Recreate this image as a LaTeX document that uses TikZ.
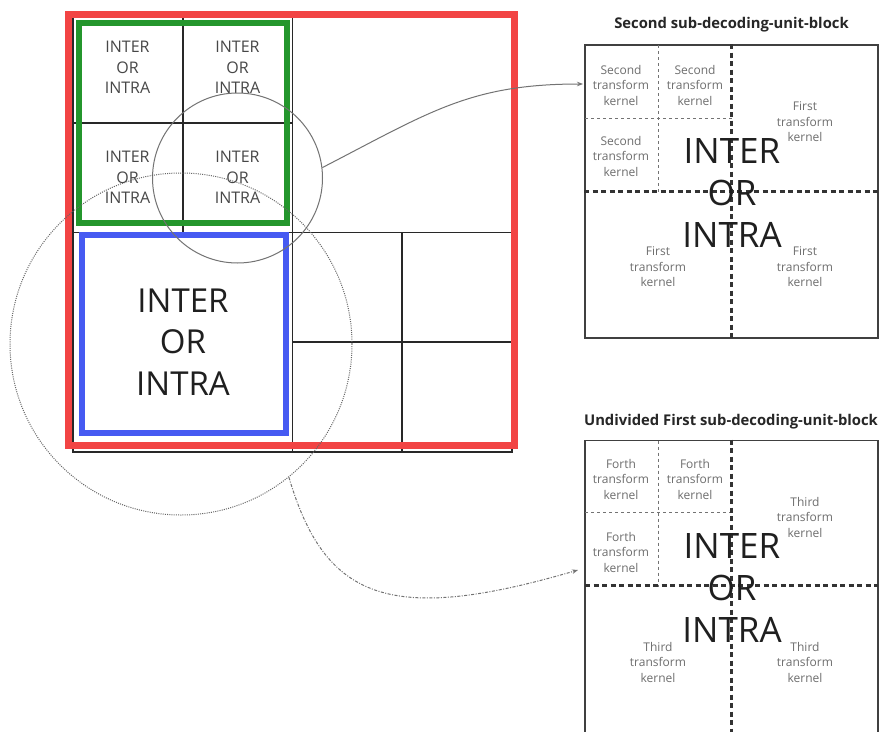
\documentclass[tikz,border=0pt]{standalone}
\usepackage{fontspec}
\setmainfont{Open Sans}
\usetikzlibrary{arrows.meta}
\definecolor{redc}{RGB}{242,68,68}
\definecolor{greenc}{RGB}{36,150,44}
\definecolor{bluec}{RGB}{70,90,242}
\definecolor{gridc}{RGB}{40,40,40}
\definecolor{linkc}{RGB}{115,115,115}
\definecolor{kerc}{RGB}{110,110,110}
\begin{document}
\begin{tikzpicture}[x=1pt,y=-1pt,
  gridline/.style={draw=gridc, line width=1.6pt},
  selbox/.style={line width=6pt},
  smalltxt/.style={align=center, text=black!72, inner sep=0pt, font=\fontsize{16}{20.5}\selectfont},
  bigtxt/.style={align=center, text=black!88, inner sep=0pt, font=\fontsize{33}{41.5}\selectfont},
  kertxt/.style={align=center, text=kerc, inner sep=0pt, font=\fontsize{12}{15.5}\selectfont},
  titletxt/.style={inner sep=0pt, text=black!85, font=\bfseries\fontsize{14.8}{17}\selectfont},
  panelbox/.style={draw=black!75, line width=1.8pt, minimum size=293pt, inner sep=0pt},
  maindash/.style={draw=black!80, line width=2.2pt, dash pattern=on 5pt off 3.5pt},
  subdash/.style={draw=black!55, line width=1pt, dash pattern=on 3pt off 3pt},
  zoomring/.style={circle, draw=linkc, line width=1pt, inner sep=0pt},
  dotring/.style={circle, draw=black!60, line width=1pt, dash pattern=on 1pt off 1.2pt, inner sep=0pt},
  linkarrow/.style={draw=linkc, line width=1pt, -{Stealth[length=6pt,width=4.5pt]}}
]
\useasboundingbox (0,0) rectangle (883,731);
\fill[white] (0,0) rectangle (883,731);

% ---- main quad-tree grid ----
\draw[gridline] (73,13) rectangle (512,452);
\draw[gridline, line width=2.8pt] (73,452) -- (512,452);
\draw[gridline] (292.5,13) -- (292.5,452);
\draw[gridline] (73,232.5) -- (512,232.5);
\draw[gridline] (182.75,13) -- (182.75,232.5);
\draw[gridline] (73,122.75) -- (292.5,122.75);
\draw[gridline] (402.25,232.5) -- (402.25,452);
\draw[gridline] (292.5,342.25) -- (512,342.25);

% ---- coloured selections ----
\draw[selbox, draw=redc, line width=7pt] (68,14) rectangle (514,445);
\draw[selbox, draw=greenc] (79,23) rectangle (287,223);
\draw[selbox, draw=bluec] (82,235) rectangle (286,433);

% ---- texts in grid ----
\node[smalltxt] (c11) at (127.5,67.5) {INTER\\OR\\INTRA};
\node[smalltxt] (c12) at (237.5,67.5) {INTER\\OR\\INTRA};
\node[smalltxt] (c21) at (127.5,177.5) {INTER\\OR\\INTRA};
\node[smalltxt] (c22) at (237.5,177.5) {INTER\\OR\\INTRA};
\node[bigtxt] (cb) at (183,342) {INTER\\OR\\INTRA};

% ---- zoom rings ----
\node[zoomring, minimum size=170pt] (ring1) at (237.5,178) {};
\node[dotring, minimum size=342pt] (ring2) at (181,344) {};

% ---- panel 1 ----
\node[titletxt] (title1) at (731.5,25) {Second sub-decoding-unit-block};
\node[panelbox] (p1) at (731.5,191.5) {};
\draw[subdash] (658,45) -- (658,191.5);
\draw[subdash] (585,118) -- (731.5,118);
\draw[maindash] (p1.north) -- (p1.south);
\draw[maindash] (p1.west) -- (p1.east);
\node[kertxt] (k11) at (621,85) {Second\\transform\\kernel};
\node[kertxt] (k12) at (695,85) {Second\\transform\\kernel};
\node[kertxt] (k13) at (621,156) {Second\\transform\\kernel};
\node[kertxt] (k14) at (805,122) {First\\transform\\kernel};
\node[kertxt] (k15) at (658,267) {First\\transform\\kernel};
\node[kertxt] (k16) at (805,267) {First\\transform\\kernel};
\node[bigtxt, font=\fontsize{35}{42}\selectfont] (pb1) at (732,193) {INTER\\OR\\INTRA};

% ---- panel 2 ----
\node[titletxt] (title2) at (731,422) {Undivided First sub-decoding-unit-block};
\node[panelbox] (p2) at (731.5,587) {};
\draw[subdash] (658,440.5) -- (658,587);
\draw[subdash] (585,512) -- (731.5,512);
\draw[maindash] (p2.north) -- (p2.south);
\draw[maindash] (585,585.5) -- (878,585.5);
\node[kertxt] (k21) at (621,479) {Forth\\transform\\kernel};
\node[kertxt] (k22) at (695,479) {Forth\\transform\\kernel};
\node[kertxt] (k23) at (621,552) {Forth\\transform\\kernel};
\node[kertxt] (k24) at (805,517) {Third\\transform\\kernel};
\node[kertxt] (k25) at (658,662) {Third\\transform\\kernel};
\node[kertxt] (k26) at (805,662) {Third\\transform\\kernel};
\node[bigtxt, font=\fontsize{35}{42}\selectfont] (pb2) at (732,588) {INTER\\OR\\INTRA};

% ---- connectors ----
\coordinate (in1) at (583,84);
\coordinate (in2) at (578,570);
\draw[linkarrow] (ring1.7) .. controls (430,112) and (470,84) .. (in1);
\draw[linkarrow, dash pattern=on 3pt off 1.5pt on 1pt off 1.5pt] (ring2.-51) .. controls (325,600) and (390,625) .. (in2);
\end{tikzpicture}
\end{document}
